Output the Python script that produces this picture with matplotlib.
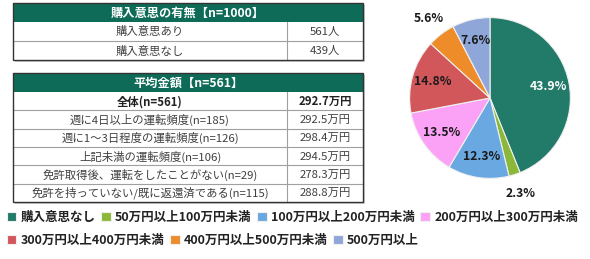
import matplotlib
matplotlib.use("Agg")
import matplotlib.pyplot as plt
from matplotlib.patches import Rectangle

plt.rcParams['font.family'] = ['Noto Sans CJK JP', 'DejaVu Sans']

# ---- data ----
t1_title = "購入意思の有無【n=1000】"
t1_labels = ["購入意思あり", "購入意思なし"]
t1_values = ["561人", "439人"]

t2_title = "平均金額【n=561】"
t2_labels = ["全体(n=561)", "週に4日以上の運転頻度(n=185)", "週に1～3日程度の運転頻度(n=126)",
             "上記未満の運転頻度(n=106)", "免許取得後、運転をしたことがない(n=29)",
             "免許を持っていない/既に返還済である(n=115)"]
t2_values = ["292.7万円", "292.5万円", "298.4万円", "294.5万円", "278.3万円", "288.8万円"]

pie_labels = ["購入意思なし", "50万円以上100万円未満", "100万円以上200万円未満", "200万円以上300万円未満",
              "300万円以上400万円未満", "400万円以上500万円未満", "500万円以上"]
pie_values = [43.9, 2.3, 12.3, 13.5, 14.8, 5.6, 7.6]
pie_colors = ['#227A69', '#8CB83A', '#6AA8E2', '#FBA2F7', '#D2575A', '#EF8C2A', '#8FA6D8']

W, H = 590, 259
fig = plt.figure(figsize=(W / 100, H / 100), dpi=100)
fig.patch.set_facecolor('white')

# canvas axes in pixel coords
cax = fig.add_axes([0, 0, 1, 1])
cax.set_xlim(0, W)
cax.set_ylim(H, 0)
cax.axis('off')

HEAD = '#0E6B57'
TXT = '#404040'
x0, xm, x1 = 13, 287, 363


def draw_table(top, head_h, row_h, title, labels, values, bold_first=False):
    n = len(labels)
    bottom = top + head_h + n * row_h
    # shadow
    cax.add_patch(Rectangle((x0 + 2, top + 2), x1 - x0, bottom - top, facecolor='#d0d0d0',
                            edgecolor='none', zorder=1))
    cax.add_patch(Rectangle((x0, top), x1 - x0, head_h, facecolor=HEAD, edgecolor='none', zorder=2))
    cax.add_patch(Rectangle((x0, top + head_h), x1 - x0, n * row_h, facecolor='white',
                            edgecolor='none', zorder=2))
    cax.text((x0 + x1) / 2, top + head_h / 2 + 0.5, title, color='white', fontsize=8.8,
             fontweight='bold', ha='center', va='center', zorder=5)
    for i, (lab, val) in enumerate(zip(labels, values)):
        y = top + head_h + i * row_h
        if i > 0:
            cax.plot([x0, x1], [y, y], color='#a0a0a0', lw=0.8, zorder=3)
        fw = 'bold' if (bold_first and i == 0) else 'normal'
        col = '#222222' if fw == 'bold' else TXT
        cax.text((x0 + xm) / 2, y + row_h / 2 + 0.5, lab, fontsize=8.2, color=col, fontweight=fw,
                 ha='center', va='center', zorder=5)
        cax.text((xm + x1) / 2, y + row_h / 2 + 0.5, val, fontsize=8.2, color=col, fontweight=fw,
                 ha='center', va='center', zorder=5)
    cax.plot([xm, xm], [top + head_h, bottom], color='#a0a0a0', lw=0.8, zorder=3)
    cax.add_patch(Rectangle((x0, top), x1 - x0, bottom - top, facecolor='none',
                            edgecolor='#333333', lw=1.0, zorder=4))


draw_table(3, 19, 19, t1_title, t1_labels, t1_values)
draw_table(73, 19, 18.3, t2_title, t2_labels, t2_values, bold_first=True)

# ---- pie ----
cx, cy, r = 490, 98, 82
pax = fig.add_axes([(cx - r) / W, (H - cy - r) / H, 2 * r / W, 2 * r / H])
wedges, texts, autotexts = pax.pie(pie_values, colors=pie_colors, startangle=90, counterclock=False,
                                   autopct='%1.1f%%', pctdistance=0.74,
                                   wedgeprops=dict(edgecolor='#f0f0f0', linewidth=0.8),
                                   textprops=dict(fontsize=8.8, fontweight='bold', color='#1a1a1a'))
pax.set_aspect('equal')
pax.set_xlim(-1.02, 1.02)
pax.set_ylim(-1.02, 1.02)
for i, t in enumerate(autotexts):
    if i == 0:
        t.set_color('white')
    if pie_values[i] < 6:
        x, y = t.get_position()
        t.set_position((x * 1.68, y * 1.68))
        t.set_clip_on(False)

# ---- legend ----
leg_kw = dict(frameon=False, prop=dict(size=9.0, weight='bold'), handlelength=0.75,
              handleheight=0.75, handletextpad=0.35, columnspacing=0.45, borderaxespad=0,
              labelcolor='#222222')
leg1 = fig.legend(wedges[:4], pie_labels[:4], ncol=4, loc='center left',
                  bbox_to_anchor=(2 / W, 1 - 217 / H), **leg_kw)
leg2 = fig.legend(wedges[4:], pie_labels[4:], ncol=3, loc='center left',
                  bbox_to_anchor=(2 / W, 1 - 240 / H), **leg_kw)

fig.savefig('out.png', dpi=100)
